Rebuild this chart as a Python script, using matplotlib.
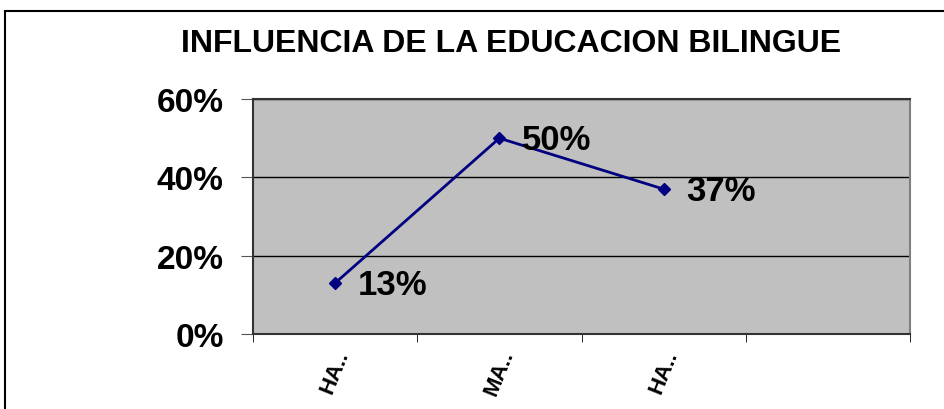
import matplotlib.pyplot as plt
from matplotlib.patches import Rectangle
from matplotlib.ticker import FixedLocator

categories = ["HA..", "MA..", "HA..", ""]
values = [13, 50, 37]
yticks = [0, 20, 40, 60]

plt.rcParams['font.family'] = ['Liberation Sans', 'DejaVu Sans']

fig = plt.figure(figsize=(9.44, 4.10), dpi=100)
ax = fig.add_axes([0.268, 0.183, 0.696, 0.573])
ax.set_facecolor('#C0C0C0')

# outer chart border (runs off the right and bottom of the image)
fig.patches.append(Rectangle((0.0055, -0.2), 1.2, 0.971 + 0.2, transform=fig.transFigure,
                             fill=False, edgecolor='black', lw=1.5))

x = list(range(len(values)))
ax.plot(x, values, color='#000080', lw=2, marker='D', ms=6, zorder=3)
for xi, v in zip(x, values):
    ax.annotate(f"{v}%", (xi, v), xytext=(16, -1), textcoords='offset points',
                ha='left', va='center', fontsize=25, fontweight='bold')

ax.set_xlim(-0.5, len(categories) - 0.5)
ax.set_ylim(0, 60)
ax.set_yticks(yticks)
ax.set_yticklabels([f"{t}%" for t in yticks], fontsize=24, fontweight='bold')
ax.yaxis.grid(True, color='black', lw=1)
ax.set_axisbelow(True)

ax.set_xticks(range(len(categories)))
ax.set_xticklabels(categories, rotation=68, fontsize=16, fontweight='bold',
                   ha='center', va='top')
ax.xaxis.set_minor_locator(FixedLocator([i - 0.5 for i in range(len(categories) + 1)]))
ax.tick_params(axis='x', which='major', length=0, pad=9)
ax.tick_params(axis='x', which='minor', length=6, color='black')
ax.tick_params(axis='y', length=9, color='#555555', pad=12)

for side in ['top', 'left', 'bottom']:
    ax.spines[side].set_color('#333333')
    ax.spines[side].set_linewidth(1.5)
ax.spines['right'].set_color('#808080')
ax.spines['right'].set_linewidth(1.5)

fig.text(0.541, 0.893, "INFLUENCIA DE LA EDUCACION BILINGUE", ha='center', va='center',
         fontsize=23, fontweight='bold')

fig.savefig('out.png', dpi=100)
